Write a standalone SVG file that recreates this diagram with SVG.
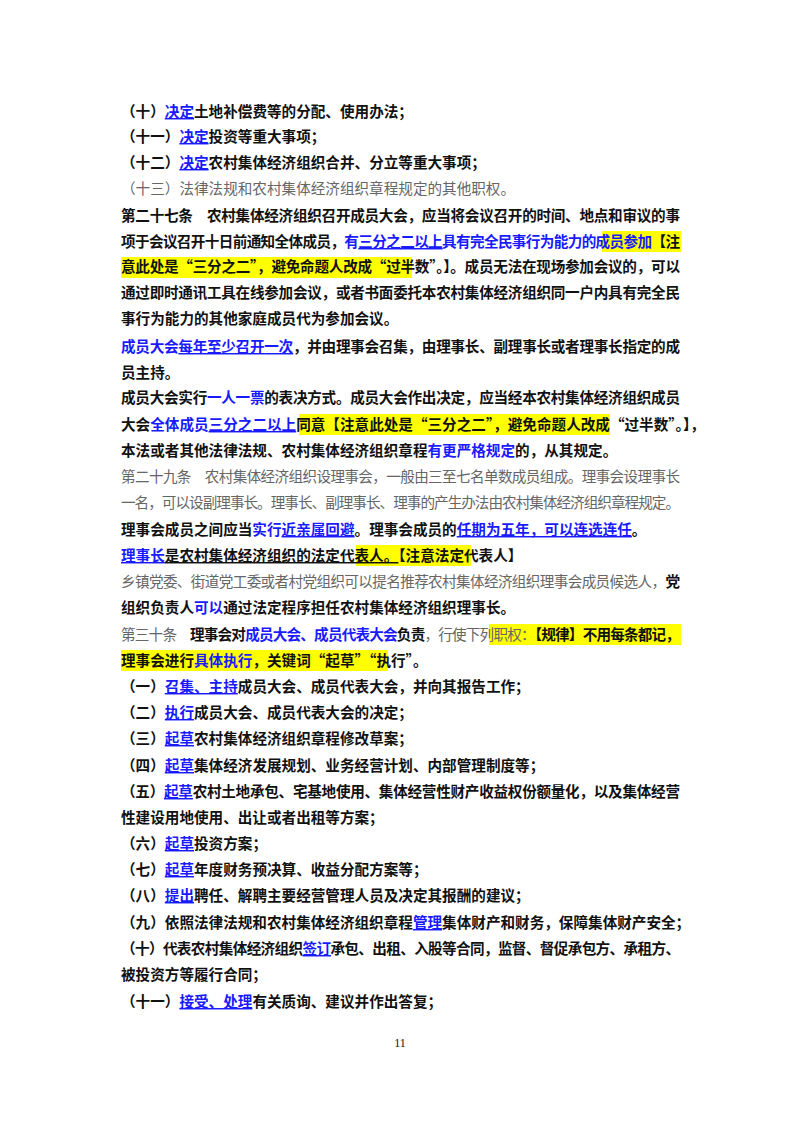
<svg xmlns="http://www.w3.org/2000/svg" width="800" height="1132" viewBox="0 0 800 1132">
<style>
text{font-family:"Noto Sans CJK SC","Noto Sans",sans-serif;font-size:14.6px;font-weight:bold;fill:#111}
.b{fill:#1a1aff}
.u{text-decoration:underline}
.g{fill:#666;font-weight:normal}
.hl{fill:#ffff00}
.pn{font-family:"Liberation Serif",serif;font-weight:normal;font-size:12px}
</style>
<rect width="800" height="1132" fill="#fff"/>
<g id="highlights">
<rect class="hl" x="602" y="231" width="79" height="21"/>
<rect class="hl" x="121" y="257" width="291" height="21"/>
<rect class="hl" x="299" y="414" width="311" height="21"/>
<rect class="hl" x="356" y="545" width="115" height="21"/>
<rect class="hl" x="489" y="624" width="192" height="21"/>
<rect class="hl" x="121" y="650" width="267" height="21"/>
</g>
<g id="body">
<text x="121" y="117">（十）<tspan class="b u">决定</tspan>土地补偿费等的分配、使用办法；</text>
<text x="121" y="142">（十一）<tspan class="b u">决定</tspan>投资等重大事项；</text>
<text x="121" y="168">（十二）<tspan class="b u">决定</tspan>农村集体经济组织合并、分立等重大事项；</text>
<text x="121" y="194" class="g">（十三）法律法规和农村集体经济组织章程规定的其他职权。</text>
<text x="121" y="221" textLength="559" lengthAdjust="spacing">第二十七条　农村集体经济组织召开成员大会，应当将会议召开的时间、地点和审议的事</text>
<text x="121" y="247" textLength="559" lengthAdjust="spacing">项于会议召开十日前通知全体成员，<tspan class="b">有</tspan><tspan class="b u">三分之二以上</tspan><tspan class="b">具有完全民事行为能力的成员参加</tspan>【注</text>
<text x="121" y="272" textLength="559" lengthAdjust="spacing">意此处是“三分之二”，避免命题人改成“过半数”。】。成员无法在现场参加会议的，可以</text>
<text x="121" y="298" textLength="559" lengthAdjust="spacing">通过即时通讯工具在线参加会议，或者书面委托本农村集体经济组织同一户内具有完全民</text>
<text x="121" y="324">事行为能力的其他家庭成员代为参加会议。</text>
<text x="121" y="352" textLength="559" lengthAdjust="spacing"><tspan class="b">成员大会</tspan><tspan class="b u">每年至少召开一次</tspan>，并由理事会召集，由理事长、副理事长或者理事长指定的成</text>
<text x="121" y="378">员主持。</text>
<text x="121" y="403" textLength="559" lengthAdjust="spacing">成员大会实行<tspan class="b">一人一票</tspan>的表决方式。成员大会作出决定，应当经本农村集体经济组织成员</text>
<text x="121" y="430">大会<tspan class="b">全体成员</tspan><tspan class="b u">三分之二以上</tspan>同意【注意此处是“三分之二”，避免命题人改成“过半数”。】，</text>
<text x="121" y="456">本法或者其他法律法规、农村集体经济组织章程<tspan class="b">有更严格规定</tspan>的，从其规定。</text>
<text x="121" y="482" class="g" textLength="559" lengthAdjust="spacing">第二十九条　农村集体经济组织设理事会，一般由三至七名单数成员组成。理事会设理事长</text>
<text x="121" y="508" class="g" textLength="559" lengthAdjust="spacing">一名，可以设副理事长。理事长、副理事长、理事的产生办法由农村集体经济组织章程规定。</text>
<text x="121" y="535">理事会成员之间应当<tspan class="b">实行</tspan><tspan class="b u">近亲属回避</tspan>。理事会成员的<tspan class="b u">任期为五年，可以连选连任</tspan>。</text>
<text x="121" y="561"><tspan class="b u">理事长</tspan><tspan class="u">是农村集体经济组织的法定代表人。</tspan>【注意法定代表人】</text>
<text x="121" y="587" textLength="559" lengthAdjust="spacing"><tspan class="g">乡镇党委、街道党工委或者村党组织可以提名推荐农村集体经济组织理事会成员候选人，</tspan>党</text>
<text x="121" y="613">组织负责人<tspan class="b">可以</tspan>通过法定程序担任农村集体经济组织理事长。</text>
<text x="121" y="640" textLength="559" lengthAdjust="spacing"><tspan class="g">第三十条　</tspan>理事会对<tspan class="b">成员大会、成员代表大会</tspan>负责<tspan class="g">，行使下列职权：</tspan>【规律】不用每条都记，</text>
<text x="121" y="666">理事会进行<tspan class="b">具体执行</tspan>，关键词“起草”“执行”。</text>
<text x="121" y="692">（一）<tspan class="b u">召集、主持</tspan>成员大会、成员代表大会，并向其报告工作；</text>
<text x="121" y="718">（二）<tspan class="b u">执行</tspan>成员大会、成员代表大会的决定；</text>
<text x="121" y="744">（三）<tspan class="b u">起草</tspan>农村集体经济组织章程修改草案；</text>
<text x="121" y="771">（四）<tspan class="b u">起草</tspan>集体经济发展规划、业务经营计划、内部管理制度等；</text>
<text x="121" y="797" textLength="559" lengthAdjust="spacing">（五）<tspan class="b u">起草</tspan>农村土地承包、宅基地使用、集体经营性财产收益权份额量化，以及集体经营</text>
<text x="121" y="823">性建设用地使用、出让或者出租等方案；</text>
<text x="121" y="849">（六）<tspan class="b u">起草</tspan>投资方案；</text>
<text x="121" y="875">（七）<tspan class="b u">起草</tspan>年度财务预决算、收益分配方案等；</text>
<text x="121" y="901">（八）<tspan class="b u">提出</tspan>聘任、解聘主要经营管理人员及决定其报酬的建议；</text>
<text x="121" y="928">（九）依照法律法规和农村集体经济组织章程<tspan class="b u">管理</tspan>集体财产和财务，保障集体财产安全；</text>
<text x="121" y="954" textLength="559" lengthAdjust="spacing">（十）代表农村集体经济组织<tspan class="b u">签订</tspan>承包、出租、入股等合同，监督、督促承包方、承租方、</text>
<text x="121" y="980">被投资方等履行合同；</text>
<text x="121" y="1007">（十一）<tspan class="b u">接受、处理</tspan>有关质询、建议并作出答复；</text>
<text x="400" y="1047" class="pn" text-anchor="middle">11</text>
</g>
</svg>
